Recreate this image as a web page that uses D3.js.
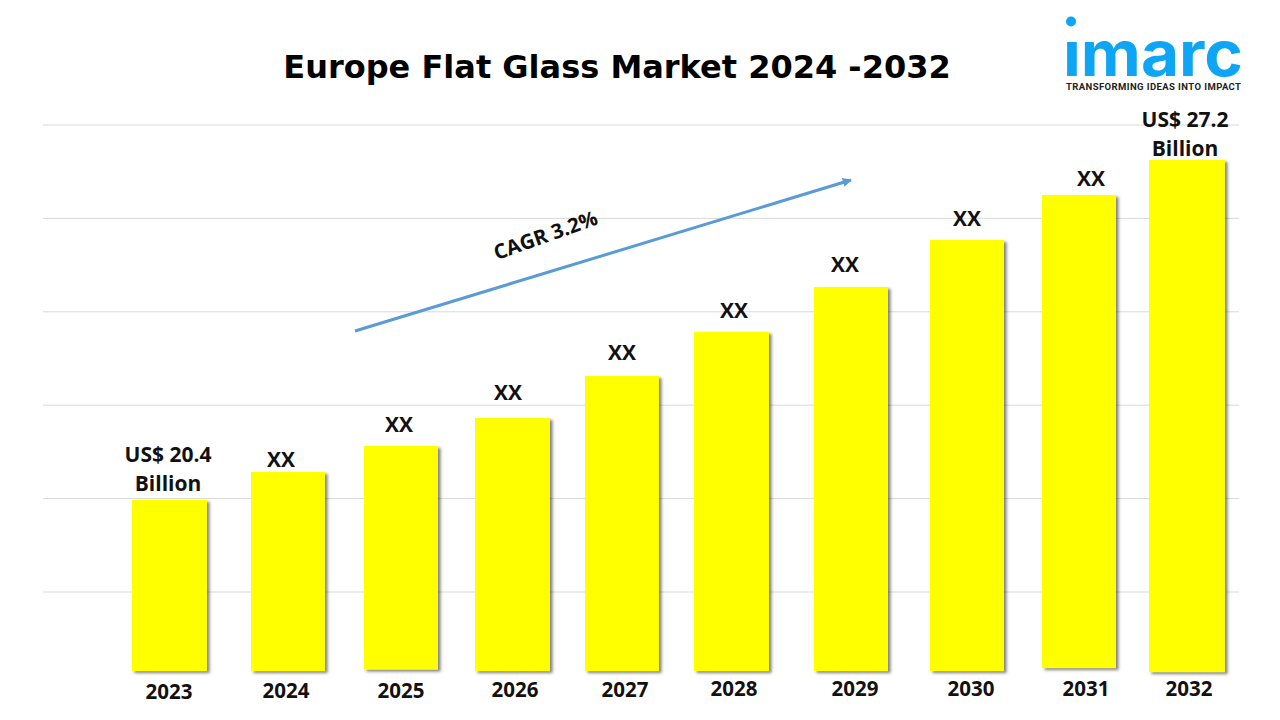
<!DOCTYPE html>
<html><head><meta charset="utf-8">
<script src="https://cdn.jsdelivr.net/npm/d3@7/dist/d3.min.js"></script>
<style>html,body{margin:0;padding:0;background:#fff}svg{display:block}</style></head>
<body><svg id="c" width="1280" height="720"></svg>
<script>
const categories=["2023","2024","2025","2026","2027","2028","2029","2030","2031","2032"];
const barValues=[1.985,2.285,2.563,2.863,3.313,3.786,4.266,4.769,5.251,5.626];
const barBaseValues=[0.154,0.154,0.17,0.154,0.154,0.154,0.154,0.154,0.186,0.143];
const barLabels=[["US$ 20.4","Billion"],["XX"],["XX"],["XX"],["XX"],["XX"],["XX"],["XX"],["XX"],["US$ 27.2","Billion"]];
const gridTicks=[1,2,3,4,5,6];
const title="Europe Flat Glass Market 2024 -2032";
const cagrLabel="CAGR 3.2%";

const svg=d3.select("#c");
const defs=svg.append("defs");
const f=defs.append("filter").attr("id","sh").attr("x","-10%").attr("y","-5%").attr("width","125%").attr("height","115%");
f.append("feDropShadow").attr("dx",2.5).attr("dy",2).attr("stdDeviation",1.6).attr("flood-color","#000").attr("flood-opacity",0.5);
defs.append("marker").attr("id","ah").attr("markerUnits","userSpaceOnUse").attr("viewBox","0 0 10 10").attr("refX",9).attr("refY",5)
 .attr("markerWidth",10).attr("markerHeight",9).attr("orient","auto")
 .append("path").attr("d","M0,0L10,5L0,10Z").attr("fill","#5b9bd5");

const y=d3.scaleLinear().domain([0,6]).range([685.4,125]);
const xBar=d3.scaleOrdinal().domain(categories).range([169.5,288,401,512.5,622,731.5,851,967,1079,1187]);
const widthBar=d3.scaleOrdinal().domain(categories).range([75,74,74,75,74,75,74,74,74,76]);
const xTick=d3.scaleOrdinal().domain(categories).range([169,286,401,515,625,734,855,971,1086,1189]);
const yTick=d3.scaleOrdinal().domain(categories).range([699,698,698,697,697,696,696,696,696,696]);
const xLab=d3.scaleOrdinal().domain(categories).range([168,281,399,508,622,734,845,967,1091,1185]);
const yLab=d3.scaleOrdinal().domain(categories).range([491,467,432,400,360,318,272,226,186,156]);

const ff='"Open Sans",sans-serif';
svg.append("g").selectAll("line").data(gridTicks).join("line")
 .attr("x1",43).attr("x2",1239).attr("y1",d=>y(d)).attr("y2",d=>y(d)).attr("stroke","#d9d9d9").attr("stroke-width",1);

svg.append("g").selectAll("rect").data(categories).join("rect")
 .attr("x",c=>xBar(c)-widthBar(c)/2).attr("width",c=>widthBar(c))
 .attr("y",(c,i)=>y(barValues[i])).attr("height",(c,i)=>y(barBaseValues[i])-y(barValues[i]))
 .attr("fill","#ffff00").attr("filter","url(#sh)");

svg.append("g").selectAll("text").data(categories).join("text")
 .attr("x",c=>xTick(c)).attr("y",c=>yTick(c)).attr("text-anchor","middle")
 .attr("font-family",ff).attr("font-weight",700).attr("font-size",20.5).attr("fill","#111").text(c=>c);

const lab=svg.append("g").selectAll("text").data(categories).join("text")
 .attr("text-anchor","middle").attr("font-family",ff).attr("font-weight",700).attr("font-size",21).attr("fill","#111");
lab.each(function(c,i){
  const lines=barLabels[i], t=d3.select(this);
  lines.forEach((s,k)=>t.append("tspan").attr("x",xLab(c)).attr("y",yLab(c)-(lines.length-1-k)*29).text(s));
});

svg.append("text").attr("x",617).attr("y",78).attr("text-anchor","middle").attr("font-family",'"DejaVu Sans",sans-serif')
 .attr("font-weight",700).attr("font-size",32).attr("fill","#000").text(title);

svg.append("line").attr("x1",355).attr("y1",331).attr("x2",851).attr("y2",180).attr("stroke","#5b9bd5").attr("stroke-width",3).attr("marker-end","url(#ah)");
svg.append("text").attr("transform","translate(548,242) rotate(-19.5)").attr("text-anchor","middle").attr("font-family",ff)
 .attr("font-weight",700).attr("font-size",20.5).attr("fill","#111").text(cagrLabel);

const logo=svg.append("g");
logo.append("text").attr("x",1063).attr("y",76).attr("font-family",'"Inter",sans-serif').attr("font-weight",700).attr("font-size",63)
 .attr("textLength",180).attr("lengthAdjust","spacingAndGlyphs").attr("fill","#0ea5f5").text("imarc");
logo.append("rect").attr("x",1062).attr("y",14).attr("width",22).attr("height",27).attr("fill","#fff");
logo.append("circle").attr("cx",1071).attr("cy",21.5).attr("r",5).attr("fill","#0ea5f5");
logo.append("text").attr("x",1066).attr("y",90).attr("font-family",'"Roboto",sans-serif').attr("font-weight",700).attr("font-size",9.5)
 .attr("textLength",175).attr("fill","#222").text("TRANSFORMING IDEAS INTO IMPACT");
</script></body></html>
